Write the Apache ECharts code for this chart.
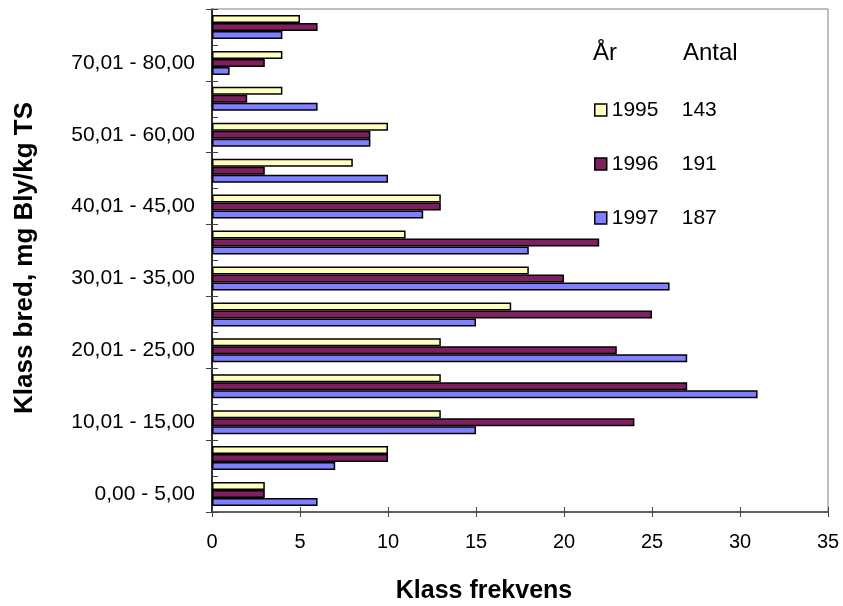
<!DOCTYPE html>
<html>
<head>
<meta charset="utf-8">
<script src="https://cdn.jsdelivr.net/npm/echarts@6/dist/echarts.min.js"></script>
<style>
  html, body { margin: 0; padding: 0; background: #fff; }
  #chart { width: 843px; height: 606px; }
</style>
</head>
<body>
<div id="chart"></div>
<script>
const categories = [
  '0,00 - 5,00', '5,01 - 10,00', '10,01 - 15,00', '15,01 - 20,00',
  '20,01 - 25,00', '25,01 - 30,00', '30,01 - 35,00', '35,01 - 40,00',
  '40,01 - 45,00', '45,01 - 50,00', '50,01 - 60,00', '60,01 - 70,00',
  '70,01 - 80,00', '> 80,00'
];
const years = ['1995', '1996', '1997'];
const counts = [143, 191, 187];
const values1995 = [3, 10, 13, 13, 13, 17, 18, 11, 13, 8, 10, 4, 4, 5];
const values1996 = [3, 10, 24, 27, 23, 25, 20, 22, 13, 3, 9, 2, 3, 6];
const values1997 = [6, 7, 15, 31, 27, 15, 26, 18, 12, 10, 9, 6, 1, 4];
const xTicks = { min: 0, max: 35, interval: 5 };
const xTitle = 'Klass frekvens';
const yTitle = 'Klass bred, mg Bly/kg TS';
const legendHeader = ['År', 'Antal'];

const colors = ['#FFFFC0', '#7F1F5F', '#7F7FFF'];
const seriesValues = [values1995, values1996, values1997];
const FONT = 'Liberation Sans, Arial, sans-serif';

const chart = echarts.init(document.getElementById('chart'), null, { renderer: 'canvas' });

const series = years.map((y, i) => ({
  name: y,
  type: 'bar',
  data: seriesValues[i],
  barGap: '0%',
  barWidth: 8,
  itemStyle: { color: colors[i], borderColor: '#000', borderWidth: 1.5 },
  animation: false
}));

const option = {
  animation: false,
  backgroundColor: '#fff',
  grid: {
    left: 212, right: 15, top: 9, bottom: 94,
    show: true, borderColor: '#808080', borderWidth: 1, backgroundColor: 'transparent'
  },
  xAxis: [{
    type: 'value', min: xTicks.min, max: xTicks.max, interval: xTicks.interval,
    position: 'bottom',
    splitLine: { show: false },
    axisLine: { show: true, lineStyle: { color: '#404040', width: 1.5 } },
    axisTick: { show: true, length: 5, lineStyle: { color: '#404040' } },
    axisLabel: { fontFamily: FONT, fontSize: 20, color: '#000', margin: 20 }
  }, {
    type: 'value', min: xTicks.min, max: xTicks.max, interval: xTicks.interval,
    position: 'bottom',
    splitLine: { show: false },
    axisLine: { show: false },
    axisTick: { show: true, inside: true, length: 5, lineStyle: { color: '#404040' } },
    axisLabel: { show: false }
  }],
  yAxis: [{
    type: 'category', data: categories, position: 'left',
    axisLine: { show: true, lineStyle: { color: '#000', width: 1.5 } },
    axisTick: { show: true, length: 6, lineStyle: { color: '#404040' } },
    axisLabel: { interval: 1, fontFamily: FONT, fontSize: 21, color: '#000', margin: 17 }
  }, {
    type: 'category', data: categories, position: 'left',
    axisLine: { show: false },
    axisTick: { show: true, inside: true, length: 6, lineStyle: { color: '#404040' } },
    axisLabel: { show: false }
  }],
  legend: {
    orient: 'vertical', left: 589, top: 93,
    data: years,
    icon: 'rect', itemWidth: 12, itemHeight: 12, itemGap: 30,
    itemStyle: { borderColor: '#000', borderWidth: 1.5 },
    textStyle: {
      fontFamily: FONT, fontSize: 21, color: '#000', lineHeight: 24,
      rich: {
        y: { fontFamily: FONT, fontSize: 21, width: 70, color: '#000', lineHeight: 24 },
        c: { fontFamily: FONT, fontSize: 21, color: '#000', lineHeight: 24 }
      }
    },
    formatter: name => '{y|' + name + '}{c|' + counts[years.indexOf(name)] + '}',
    selectedMode: false
  },
  graphic: [
    { type: 'text', x: 593, y: 53, style: { text: legendHeader[0], font: '24px ' + FONT, fill: '#000', verticalAlign: 'middle' } },
    { type: 'text', x: 683, y: 53, style: { text: legendHeader[1], font: '24px ' + FONT, fill: '#000', verticalAlign: 'middle' } },
    { type: 'text', x: 484, y: 591, style: { text: xTitle, font: 'bold 25px ' + FONT, fill: '#000', align: 'center', verticalAlign: 'middle' } },
    { type: 'text', x: 25, y: 258, rotation: Math.PI / 2, style: { text: yTitle, font: 'bold 26px ' + FONT, fill: '#000', align: 'center', verticalAlign: 'middle' } }
  ],
  series: series
};
chart.setOption(option);
</script>
</body>
</html>
